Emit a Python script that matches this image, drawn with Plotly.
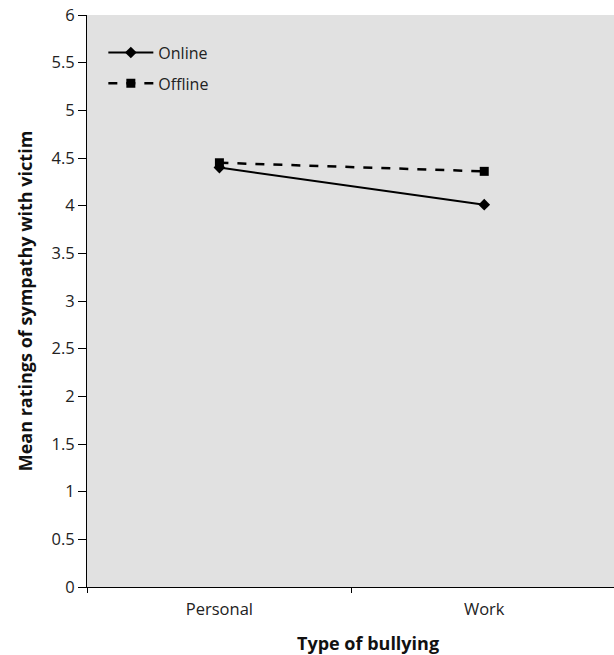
import plotly.graph_objects as go

categories = ["Personal", "Work"]
online = [4.40, 4.01]
offline = [4.45, 4.36]
y_ticks = [0, 0.5, 1, 1.5, 2, 2.5, 3, 3.5, 4, 4.5, 5, 5.5, 6]

FONT = "Open Sans, sans-serif"

fig = go.Figure()
fig.add_trace(go.Scatter(
    x=categories, y=online, name="Online", mode="lines+markers",
    line=dict(color="black", width=2),
    marker=dict(symbol="diamond", size=9, color="black"),
    legendgroup="a",
))
fig.add_trace(go.Scatter(
    x=categories, y=offline, name="Offline", mode="lines+markers",
    line=dict(color="black", width=2.5, dash="dash"),
    marker=dict(symbol="square", size=9, color="black"),
    legendgroup="b",
))

fig.update_layout(
    width=614, height=655,
    margin=dict(l=87, r=0, t=15, b=68, autoexpand=False),
    paper_bgcolor="white",
    plot_bgcolor="#e1e1e1",
    font=dict(family=FONT, size=16.5, color="#222"),
    showlegend=True,
    legend=dict(
        x=0.031, y=0.964, xanchor="left", yanchor="top",
        bgcolor="rgba(0,0,0,0)", font=dict(size=16, color="#222"),
        tracegroupgap=7, itemwidth=45,
    ),
    xaxis=dict(
        type="category", range=[-0.5, 1.49], automargin=False,
        showgrid=False, zeroline=False,
        showline=True, linecolor="black", linewidth=1,
        ticks="outside", tickson="boundaries", ticklen=5, tickcolor="black",
        ticklabelstandoff=7,
    ),
    yaxis=dict(
        range=[0, 6], tickvals=y_ticks, automargin=False,
        ticktext=[("%g" % v) for v in y_ticks],
        showgrid=False, zeroline=False,
        showline=True, linecolor="black", linewidth=1,
        ticks="outside", ticklen=8, tickcolor="black",
        ticklabeloverflow="allow",
        title=dict(text="<b>Mean ratings of sympathy with victim</b>", font=dict(size=18, color="#111"), standoff=14),
    ),
    annotations=[dict(
        text="<b>Type of bullying</b>", xref="paper", yref="paper",
        x=0.533, y=0, xanchor="center", yanchor="top", yshift=-42,
        showarrow=False, font=dict(size=18, color="#111"),
    )],
)

fig.write_html(
    "out.html",
    config={"displayModeBar": False},
    post_script="document.body.style.margin='0';document.body.style.overflow='hidden';",
)
